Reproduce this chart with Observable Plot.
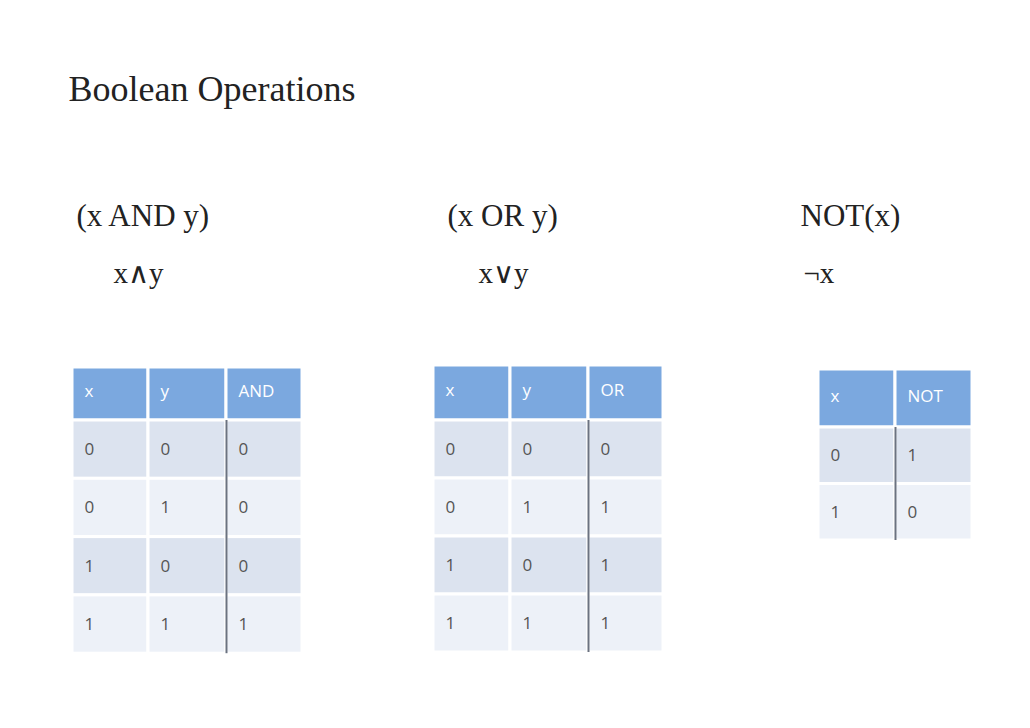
<!DOCTYPE html>
<html>
<head>
<meta charset="utf-8">
<script src="https://cdn.jsdelivr.net/npm/d3@7"></script>
<script src="https://cdn.jsdelivr.net/npm/@observablehq/plot@0.6"></script>
<style>
  body { margin: 0; background: #fff; }
</style>
</head>
<body>
<div id="chart"></div>
<script>
// data
const andHeader = ["x", "y", "AND"];
const andRows = [["0", "0", "0"], ["0", "1", "0"], ["1", "0", "0"], ["1", "1", "1"]];
const orHeader = ["x", "y", "OR"];
const orRows = [["0", "0", "0"], ["0", "1", "1"], ["1", "0", "1"], ["1", "1", "1"]];
const notHeader = ["x", "NOT"];
const notRows = [["0", "1"], ["1", "0"]];
const titles = ["(x AND y)", "(x OR y)", "NOT(x)"];
const symbols = ["x\u2227y", "x\u2228y", "\u00acx"];

// layout of each table (slide pixels)
const layouts = [
  { header: andHeader, rows: andRows, cols: [72, 148, 226, 302], top: 367, headH: 53, rowH: 58.3, sep: 2 },
  { header: orHeader, rows: orRows, cols: [433, 510, 588, 663], top: 365, headH: 55, rowH: 58, sep: 2 },
  { header: notHeader, rows: notRows, cols: [818, 895, 972], top: 369, headH: 58, rowH: 56.5, sep: 1 }
];
const titlePos = [[76, 225], [447, 225], [800, 225]];
const symbolPos = [[113, 282], [478, 282], [803, 282]];

const cells = [], labels = [], lines = [];
layouts.forEach(t => {
  t.header.forEach((h, j) => {
    cells.push({ x1: t.cols[j], x2: t.cols[j + 1], y1: t.top, y2: t.top + t.headH, fill: "#7ba8df" });
    labels.push({ x: t.cols[j] + 12, y: t.top + t.headH / 2 - 2, text: h, fill: "#ffffff" });
  });
  t.rows.forEach((r, i) => {
    const y1 = t.top + t.headH + i * t.rowH;
    r.forEach((v, j) => {
      cells.push({ x1: t.cols[j], x2: t.cols[j + 1], y1, y2: y1 + t.rowH, fill: i % 2 ? "#edf1f8" : "#dce3ef" });
      labels.push({ x: t.cols[j] + 12, y: y1 + t.rowH / 2, text: v, fill: "#555" });
    });
  });
  const bottom = t.top + t.headH + t.rows.length * t.rowH;
  lines.push({ x: t.cols[t.sep], y1: t.top + t.headH, y2: bottom });
});

const plot = Plot.plot({
  width: 1030,
  height: 728,
  margin: 0,
  x: { domain: [0, 1030], range: [0, 1030], axis: null },
  y: { domain: [0, 728], range: [0, 728], axis: null },
  style: { background: "#fff" },
  marks: [
    Plot.rect(cells, { x1: "x1", x2: "x2", y1: "y1", y2: "y2", fill: "fill", stroke: "#fff", strokeWidth: 3 }),
    Plot.ruleX(lines, { x: "x", y1: "y1", y2: "y2", stroke: "#6b7280", strokeWidth: 2 }),
    Plot.text(labels, { x: "x", y: "y", text: "text", fill: "fill", textAnchor: "start", fontSize: 17, fontFamily: "Open Sans, sans-serif" }),
    Plot.text(["Boolean Operations"], { x: 68, y: 100, text: d => d, textAnchor: "start", lineAnchor: "bottom", fontSize: 36, fontFamily: "Liberation Serif, serif", fill: "#222" }),
    Plot.text(titles, { x: (d, i) => titlePos[i][0], y: (d, i) => titlePos[i][1], text: d => d, textAnchor: "start", lineAnchor: "bottom", fontSize: 31, fontFamily: "Liberation Serif, serif", fill: "#222" }),
    Plot.text(symbols, { x: (d, i) => symbolPos[i][0], y: (d, i) => symbolPos[i][1], text: d => d, textAnchor: "start", lineAnchor: "bottom", fontSize: 29, fontFamily: "Liberation Serif, serif", fill: "#222" })
  ]
});

d3.select("#chart").append(() => plot);
</script>
</body>
</html>
